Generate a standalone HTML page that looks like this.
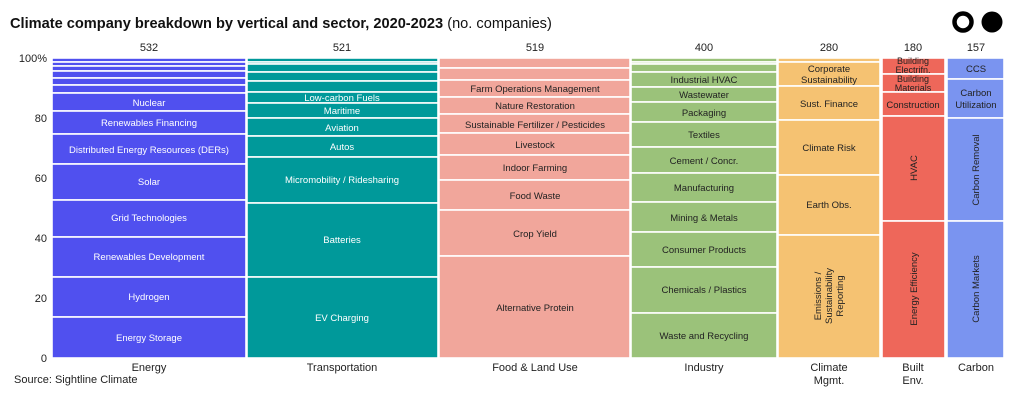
<!DOCTYPE html>
<html><head><meta charset="utf-8"><style>
body{margin:0;background:#fff;}
svg{display:block;font-family:"Liberation Sans",sans-serif;}
</style></head><body>
<svg width="1024" height="402" viewBox="0 0 1024 402" xmlns="http://www.w3.org/2000/svg">
<text x="10" y="28" font-size="14.6" font-weight="bold" fill="#111">Climate company breakdown by vertical and sector, 2020-2023 <tspan font-weight="normal">(no. companies)</tspan></text>
<circle cx="963" cy="22" r="8.5" fill="none" stroke="#000" stroke-width="4.5"/>
<circle cx="992" cy="22" r="10.5" fill="#000"/>
<g font-size="11" fill="#222" text-anchor="middle">
<text x="149" y="51">532</text><text x="342" y="51">521</text><text x="535" y="51">519</text>
<text x="704" y="51">400</text><text x="829" y="51">280</text><text x="913" y="51">180</text><text x="976" y="51">157</text>
</g>
<g font-size="11" fill="#222" text-anchor="end">
<text x="47" y="62">100%</text><text x="47" y="122">80</text><text x="47" y="182">60</text>
<text x="47" y="242">40</text><text x="47" y="302">20</text><text x="47" y="362">0</text>
</g>
<g stroke="#fff" stroke-width="1.6">
<g fill="#5050ef">
<rect x="52" y="58" width="194" height="4"/><rect x="52" y="62" width="194" height="4"/><rect x="52" y="66" width="194" height="5"/><rect x="52" y="71" width="194" height="7"/><rect x="52" y="78" width="194" height="7"/><rect x="52" y="85" width="194" height="8"/>
<rect x="52" y="93" width="194" height="18"/><rect x="52" y="111" width="194" height="23"/><rect x="52" y="134" width="194" height="30"/><rect x="52" y="164" width="194" height="36"/><rect x="52" y="200" width="194" height="37"/><rect x="52" y="237" width="194" height="40"/><rect x="52" y="277" width="194" height="40"/><rect x="52" y="317" width="194" height="41"/>
</g>
<g fill="#00999a">
<rect x="247" y="58" width="191" height="4"/><rect x="247" y="62" width="191" height="2"/><rect x="247" y="64" width="191" height="8"/><rect x="247" y="72" width="191" height="9"/><rect x="247" y="81" width="191" height="11"/><rect x="247" y="92" width="191" height="11"/><rect x="247" y="103" width="191" height="15"/><rect x="247" y="118" width="191" height="18"/><rect x="247" y="136" width="191" height="21"/><rect x="247" y="157" width="191" height="46"/><rect x="247" y="203" width="191" height="74"/><rect x="247" y="277" width="191" height="81"/>
</g>
<g fill="#f1a69b">
<rect x="439" y="58" width="191" height="10"/><rect x="439" y="68" width="191" height="12"/><rect x="439" y="80" width="191" height="17"/><rect x="439" y="97" width="191" height="17"/><rect x="439" y="114" width="191" height="19"/><rect x="439" y="133" width="191" height="22"/><rect x="439" y="155" width="191" height="25"/><rect x="439" y="180" width="191" height="30"/><rect x="439" y="210" width="191" height="46"/><rect x="439" y="256" width="191" height="102"/>
</g>
<g fill="#9bc27a">
<rect x="631" y="58" width="146" height="4"/><rect x="631" y="62" width="146" height="2"/><rect x="631" y="64" width="146" height="8"/><rect x="631" y="72" width="146" height="15"/><rect x="631" y="87" width="146" height="15"/><rect x="631" y="102" width="146" height="20"/><rect x="631" y="122" width="146" height="25"/><rect x="631" y="147" width="146" height="26"/><rect x="631" y="173" width="146" height="29"/><rect x="631" y="202" width="146" height="30"/><rect x="631" y="232" width="146" height="35"/><rect x="631" y="267" width="146" height="46"/><rect x="631" y="313" width="146" height="45"/>
</g>
<g fill="#f5c272">
<rect x="778" y="58" width="102" height="4"/><rect x="778" y="62" width="102" height="24"/><rect x="778" y="86" width="102" height="34"/><rect x="778" y="120" width="102" height="55"/><rect x="778" y="175" width="102" height="60"/><rect x="778" y="235" width="102" height="123"/>
</g>
<g fill="#ee675a">
<rect x="882" y="58" width="63" height="16"/><rect x="882" y="74" width="63" height="18"/><rect x="882" y="92" width="63" height="24"/><rect x="882" y="116" width="63" height="105"/><rect x="882" y="221" width="63" height="137"/>
</g>
<g fill="#7a94f0">
<rect x="947" y="58" width="57" height="21"/><rect x="947" y="79" width="57" height="39"/><rect x="947" y="118" width="57" height="103"/><rect x="947" y="221" width="57" height="137"/>
</g>
</g>
<g font-size="9.5" text-anchor="middle" fill="#fff">
<text x="149" y="106">Nuclear</text><text x="149" y="126">Renewables Financing</text><text x="149" y="153">Distributed Energy Resources (DERs)</text>
<text x="149" y="185">Solar</text><text x="149" y="221">Grid Technologies</text><text x="149" y="260">Renewables Development</text>
<text x="149" y="300">Hydrogen</text><text x="149" y="341">Energy Storage</text>
<text x="342" y="101">Low-carbon Fuels</text><text x="342" y="114">Maritime</text><text x="342" y="131">Aviation</text><text x="342" y="150">Autos</text>
<text x="342" y="183">Micromobility / Ridesharing</text><text x="342" y="243">Batteries</text><text x="342" y="321">EV Charging</text>
</g>
<g font-size="9.5" text-anchor="middle" fill="#222">
<text x="535" y="92">Farm Operations Management</text><text x="535" y="109">Nature Restoration</text><text x="535" y="128">Sustainable Fertilizer / Pesticides</text>
<text x="535" y="148">Livestock</text><text x="535" y="171">Indoor Farming</text><text x="535" y="199">Food Waste</text><text x="535" y="237">Crop Yield</text><text x="535" y="311">Alternative Protein</text>
<text x="704" y="83">Industrial HVAC</text><text x="704" y="98">Wastewater</text><text x="704" y="116">Packaging</text><text x="704" y="138">Textiles</text>
<text x="704" y="164">Cement / Concr.</text><text x="704" y="191">Manufacturing</text><text x="704" y="221">Mining &amp; Metals</text><text x="704" y="253">Consumer Products</text>
<text x="704" y="293">Chemicals / Plastics</text><text x="704" y="339">Waste and Recycling</text>
<text x="829" y="72">Corporate</text><text x="829" y="83">Sustainability</text><text x="829" y="107">Sust. Finance</text>
<text x="829" y="151">Climate Risk</text><text x="829" y="208">Earth Obs.</text>
<g transform="translate(829,296) rotate(-90)"><text x="0" y="-8">Emissions /</text><text x="0" y="3">Sustainability</text><text x="0" y="14">Reporting</text></g>
<text x="913" y="64" font-size="9">Building</text><text x="913" y="73" font-size="9">Electrifn.</text>
<text x="913" y="82" font-size="9">Building</text><text x="913" y="91" font-size="9">Materials</text>
<text x="913" y="108">Construction</text>
<text transform="translate(917,168) rotate(-90)">HVAC</text>
<text transform="translate(917,289) rotate(-90)">Energy Efficiency</text>
<text x="976" y="72">CCS</text><text x="976" y="96">Carbon</text><text x="976" y="108">Utilization</text>
<text transform="translate(979,170) rotate(-90)">Carbon Removal</text>
<text transform="translate(979,289) rotate(-90)">Carbon Markets</text>
</g>
<g font-size="11" text-anchor="middle" fill="#222">
<text x="149" y="371">Energy</text><text x="342" y="371">Transportation</text><text x="535" y="371">Food &amp; Land Use</text>
<text x="704" y="371">Industry</text><text x="829" y="371">Climate</text><text x="829" y="384">Mgmt.</text>
<text x="913" y="371">Built</text><text x="913" y="384">Env.</text><text x="976" y="371">Carbon</text>
</g>
<text x="14" y="383" font-size="11" fill="#222">Source: Sightline Climate</text>
</svg>
</body></html>
